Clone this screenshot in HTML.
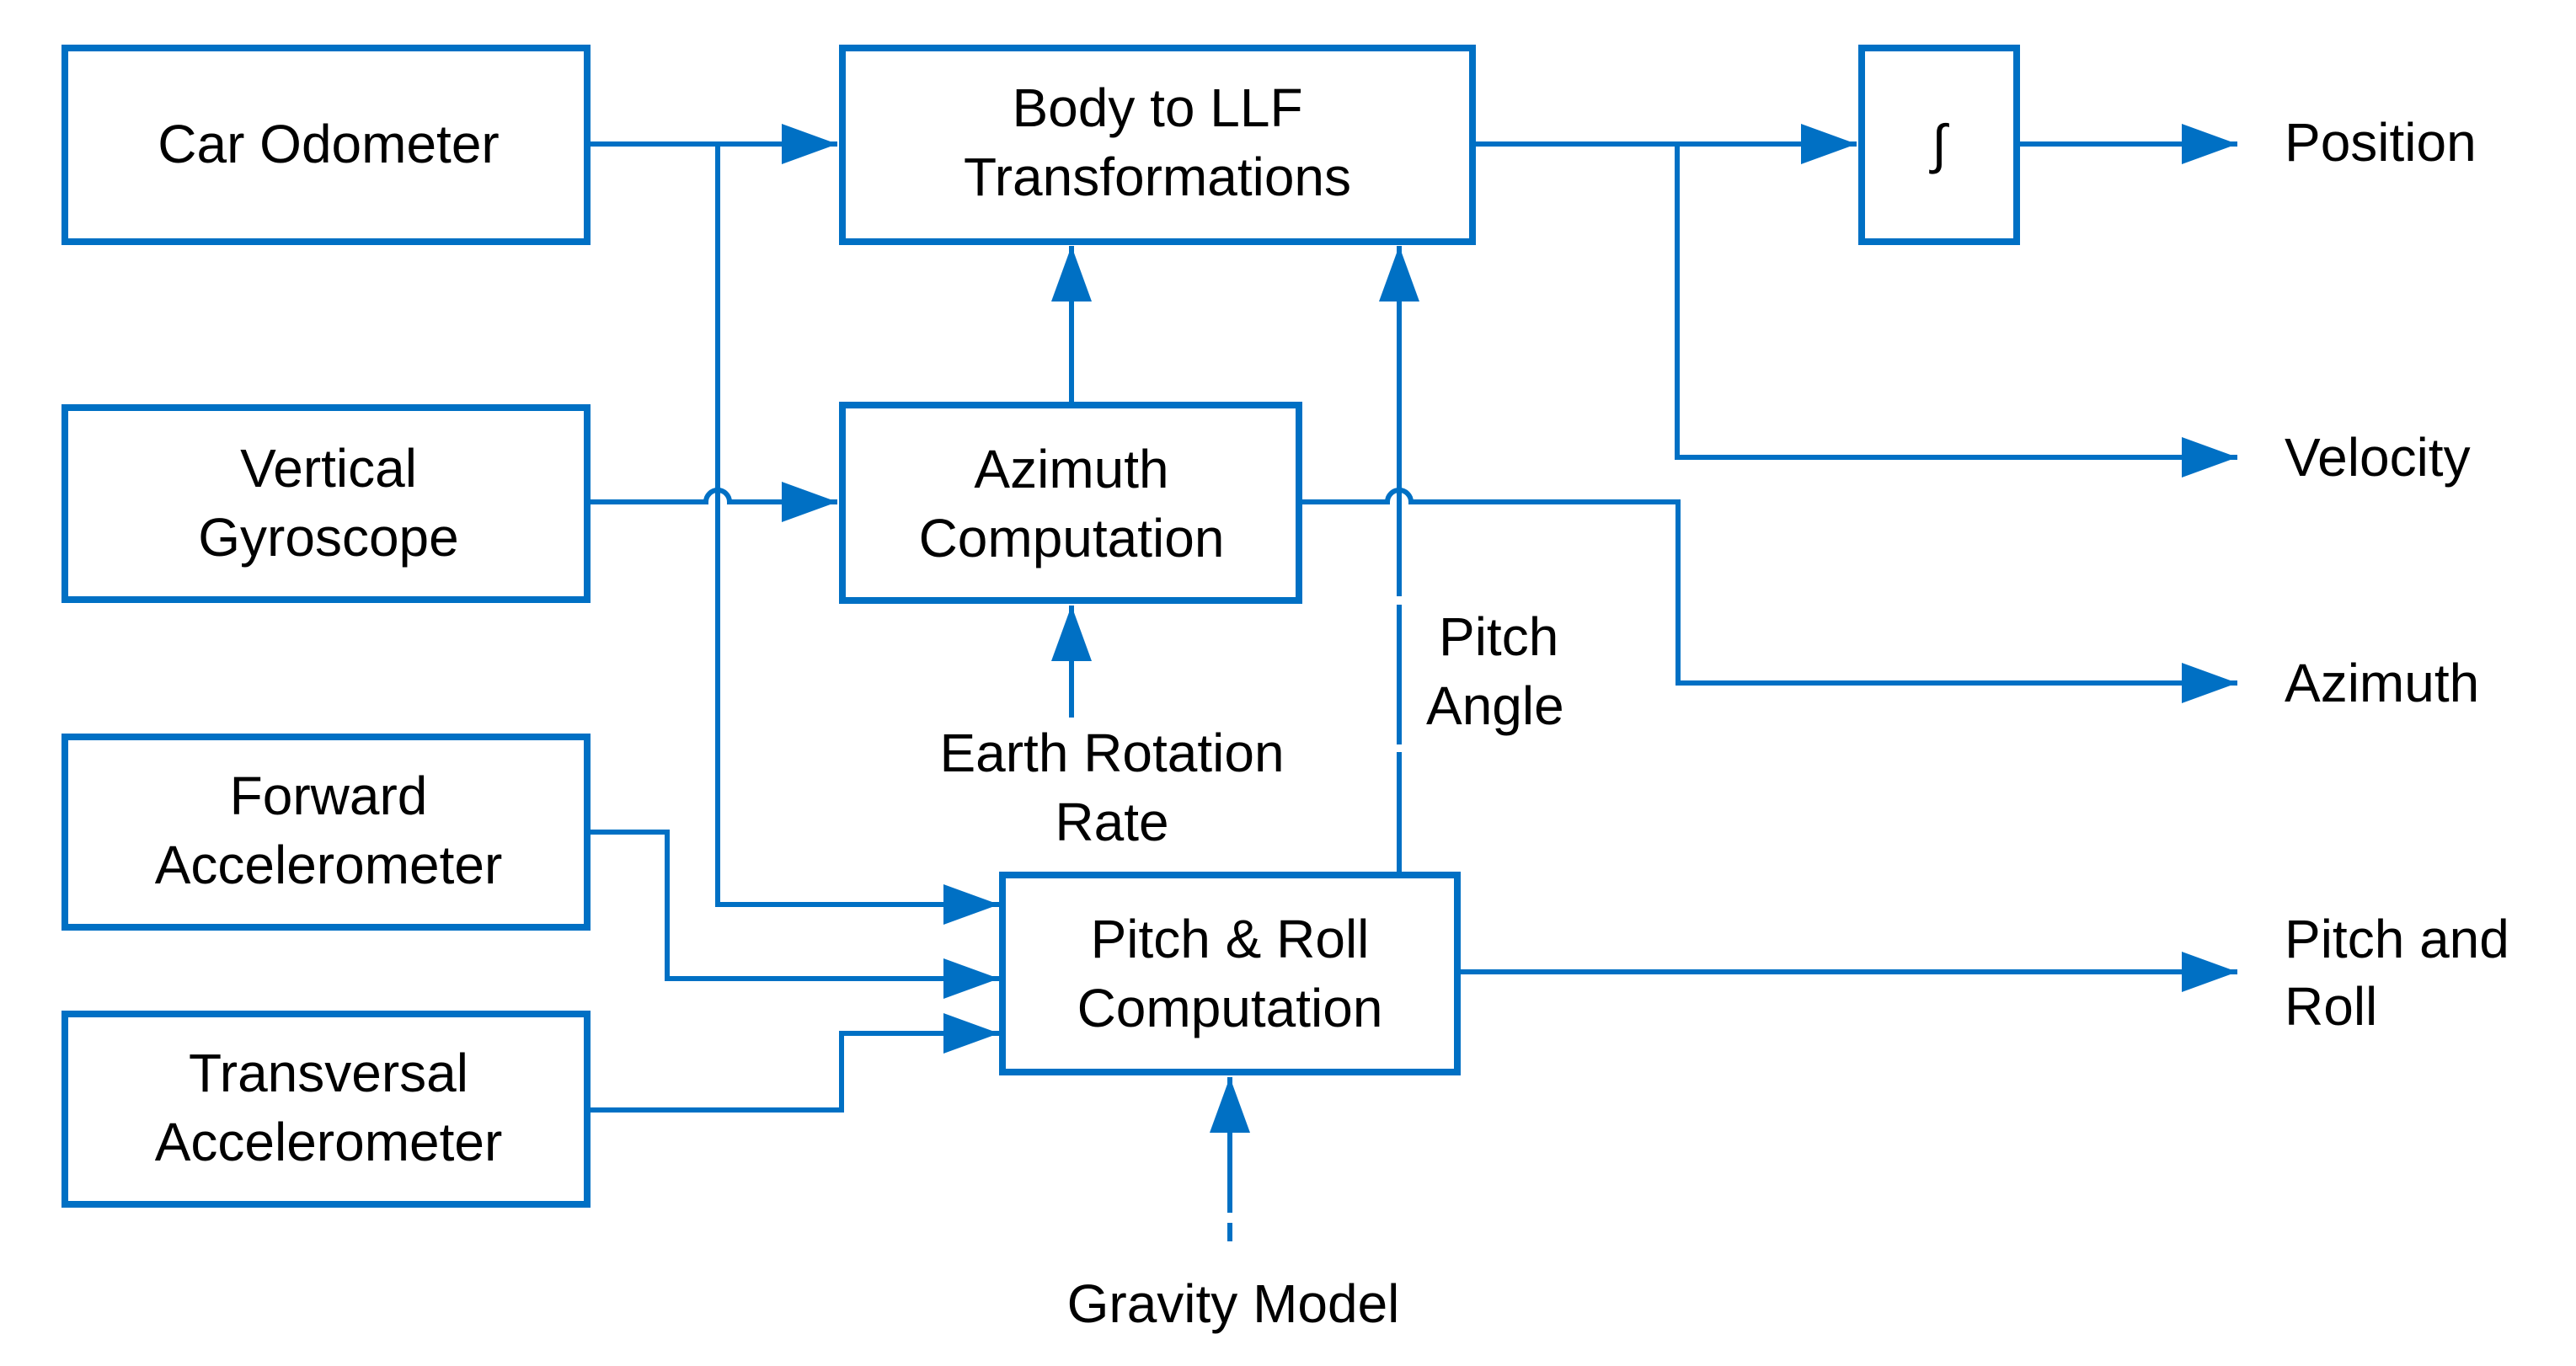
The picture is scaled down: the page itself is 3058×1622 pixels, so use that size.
<!DOCTYPE html>
<html><head><meta charset="utf-8"><style>
html,body{margin:0;padding:0;background:#fff;}
svg{display:block;}
text{font-family:"Liberation Sans",sans-serif;font-size:64px;fill:#000;}
</style></head><body>
<svg width="3058" height="1622" viewBox="0 0 3058 1622" xmlns="http://www.w3.org/2000/svg">
<defs>
<marker id="a" markerWidth="11" markerHeight="8" refX="11" refY="4" orient="auto" markerUnits="strokeWidth"><path d="M0,0 L11,4 L0,8 Z" fill="#0070C4"/></marker>
</defs>
<g fill="none" stroke="#0070C4" stroke-width="8">
<rect x="77" y="57" width="620" height="230"/>
<rect x="77" y="484" width="620" height="228"/>
<rect x="77" y="875" width="620" height="226"/>
<rect x="77" y="1204" width="620" height="226"/>
<rect x="1000" y="57" width="748" height="230"/>
<rect x="1000" y="481" width="542" height="232"/>
<rect x="1190" y="1039" width="540" height="234"/>
<rect x="2210" y="57" width="184" height="230"/>
</g>
<g fill="none" stroke="#0070C4" stroke-width="6">
<path d="M697,171 L994,171" marker-end="url(#a)"/>
<path d="M852,171 L852,1074 L1186,1074" marker-end="url(#a)"/>
<path d="M697,596 L838,596 A14,14 0 0 1 866,596 L994,596" marker-end="url(#a)"/>
<path d="M1272,481 L1272,292" marker-end="url(#a)"/>
<path d="M1661,1039 L1661,893 M1661,884 L1661,718 M1661,708 L1661,292" marker-end="url(#a)"/>
<path d="M1542,596 L1647,596 A14,14 0 0 1 1675,596 L1992,596 L1992,811 L2656,811" marker-end="url(#a)"/>
<path d="M1748,171 L2204,171" marker-end="url(#a)"/>
<path d="M1991,171 L1991,543 L2656,543" marker-end="url(#a)"/>
<path d="M2394,171 L2656,171" marker-end="url(#a)"/>
<path d="M1272,852 L1272,719" marker-end="url(#a)"/>
<path d="M697,988 L792,988 L792,1162 L1186,1162" marker-end="url(#a)"/>
<path d="M697,1318 L999,1318 L999,1227 L1186,1227" marker-end="url(#a)"/>
<path d="M1730,1154 L2656,1154" marker-end="url(#a)"/>
<path d="M1460,1474 L1460,1452 M1460,1440 L1460,1279" marker-end="url(#a)"/>
</g>
<g text-anchor="middle">
<text x="390" y="193" transform="translate(0,0)">Car Odometer</text>
<text x="390" y="578">Vertical</text>
<text x="390" y="660">Gyroscope</text>
<text x="390" y="967">Forward</text>
<text x="390" y="1049">Accelerometer</text>
<text x="390" y="1296">Transversal</text>
<text x="390" y="1378">Accelerometer</text>
<text x="1374" y="150">Body to LLF</text>
<text x="1374" y="232">Transformations</text>
<text x="1272" y="579">Azimuth</text>
<text x="1272" y="661">Computation</text>
<text x="1460" y="1137">Pitch &amp; Roll</text>
<text x="1460" y="1219">Computation</text>
<text x="1320" y="916">Earth Rotation</text>
<text x="1320" y="998">Rate</text>
<text x="1464" y="1570">Gravity Model</text>
<text x="2302" y="193">∫</text>
</g>
<text x="1708" y="778">Pitch</text>
<text x="1693" y="860">Angle</text>
<text x="2712" y="191">Position</text>
<text x="2712" y="565">Velocity</text>
<text x="2712" y="833">Azimuth</text>
<text x="2712" y="1137">Pitch and</text>
<text x="2712" y="1217">Roll</text>
</svg>
</body></html>
